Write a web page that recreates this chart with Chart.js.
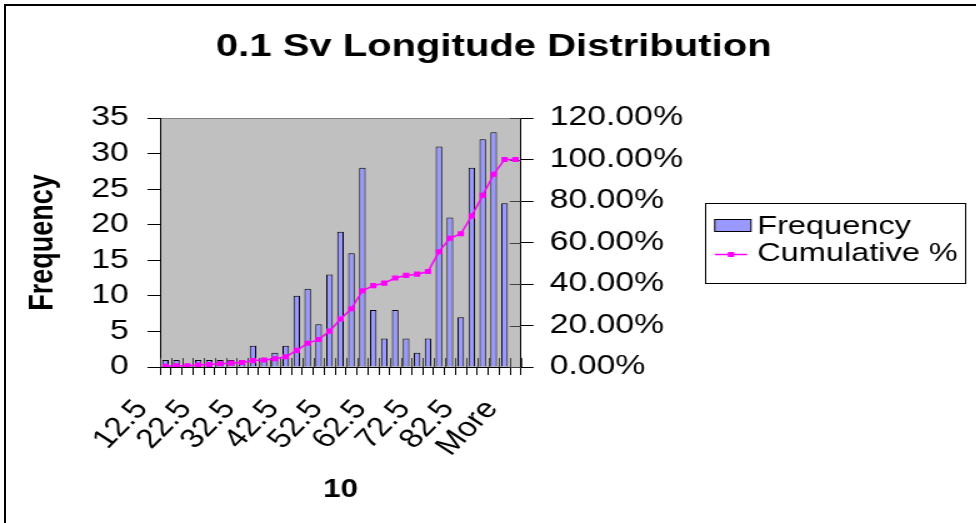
<!DOCTYPE html>
<html>
<head>
<meta charset="utf-8">
<script src="https://cdn.jsdelivr.net/npm/chart.js@4.4.1/dist/chart.umd.min.js"></script>
<style>
  html, body { margin: 0; padding: 0; background: #fff; overflow: hidden; }
  #wrap { position: relative; width: 976px; height: 523px; overflow: hidden; }
  #frame { position: absolute; left: 4px; top: 4px; width: 1200px; height: 800px;
           border-left: 2px solid #000; border-top: 2px solid #000; }
  #chart { position: absolute; left: 0; top: 0; transform: scaleX(1.25); transform-origin: 0 0; }
</style>
</head>
<body>
<div id="wrap">
  <canvas id="chart" width="781" height="523"></canvas>
  <div id="frame"></div>
</div>
<script>
const bins = ['12.5', '15', '17.5', '20', '22.5', '25', '27.5', '30', '32.5', '35', '37.5',
    '40', '42.5', '45', '47.5', '50', '52.5', '55', '57.5', '60', '62.5', '65', '67.5',
    '70', '72.5', '75', '77.5', '80', '82.5', '85', '87.5', '90', 'More'];
const frequency = [1, 1, 0, 1, 1, 1, 1, 1, 3, 1, 2, 3, 10, 11, 6, 13, 19, 16, 28, 8, 4, 8,
    4, 2, 4, 31, 21, 7, 28, 32, 33, 23, 0];
const cumulative = [0.31, 0.62, 0.62, 0.93, 1.23, 1.54, 1.85, 2.16, 3.09, 3.40, 4.01, 4.94,
    8.02, 11.42, 13.27, 17.28, 23.15, 28.09, 36.73, 39.20, 40.43, 42.90, 44.14, 44.75,
    45.99, 55.56, 62.04, 64.20, 72.84, 82.72, 92.90, 100, 100];

const FONT = "'Liberation Sans', Arial, sans-serif";
Chart.defaults.font.family = FONT;
Chart.defaults.color = '#000';

const tickFont = { family: FONT, size: 27 };

// grey plot area like the Excel original
const plotBackground = {
    id: 'plotBackground',
    beforeDraw(chart) {
        const { ctx, chartArea: a } = chart;
        ctx.save();
        ctx.fillStyle = '#c0c0c0';
        ctx.fillRect(a.left, a.top, a.width, a.height);
        ctx.strokeStyle = '#808080';
        ctx.lineWidth = 1;
        ctx.beginPath();
        ctx.moveTo(a.left, a.top + 0.5);
        ctx.lineTo(a.right, a.top + 0.5);
        ctx.stroke();
        ctx.restore();
    }
};

// Excel ticks cross the axis, Chart.js only draws the outer half
const innerTicks = {
    id: 'innerTicks',
    beforeDatasetsDraw(chart) {
        const { ctx, chartArea: a, scales } = chart;
        ctx.save();
        ctx.strokeStyle = '#404040';
        ctx.lineWidth = 1;
        ctx.beginPath();
        for (let i = 0; i <= bins.length; i++) {
            const px = Math.round(scales.x.getPixelForValue(i - 0.5)) + 0.5;
            ctx.moveTo(px, a.bottom);
            ctx.lineTo(px, a.bottom - 9);
        }
        scales.y1.ticks.forEach((t, i) => {
            const py = Math.round(scales.y1.getPixelForTick(i)) + 0.5;
            ctx.moveTo(a.right, py);
            ctx.lineTo(a.right - 9, py);
        });
        ctx.stroke();
        ctx.restore();
    }
};

// boxed legend to the right of the value axis
const boxLegend = {
    id: 'boxLegend',
    afterDraw(chart) {
        const { ctx, chartArea: a } = chart;
        const [bar, line] = chart.data.datasets;
        const left = a.right + 147, top = (a.top + a.bottom) / 2 - 40;
        ctx.save();
        ctx.strokeStyle = '#000';
        ctx.lineWidth = 1;
        ctx.strokeRect(Math.round(left) + 0.5, Math.round(top) + 0.5, 208, 80);

        ctx.fillStyle = bar.backgroundColor;
        ctx.fillRect(left + 8, top + 17, 29, 12);
        ctx.strokeRect(left + 8, top + 17, 29, 12);

        ctx.strokeStyle = line.borderColor;
        ctx.lineWidth = 1.5;
        ctx.beginPath();
        ctx.moveTo(left + 8, top + 52);
        ctx.lineTo(left + 34, top + 52);
        ctx.stroke();
        ctx.fillStyle = line.backgroundColor;
        ctx.fillRect(left + 18.5, top + 49.5, 5, 5);

        ctx.fillStyle = '#000';
        ctx.font = '26px ' + FONT;
        ctx.textBaseline = 'middle';
        ctx.fillText(bar.label, left + 42, top + 24);
        ctx.fillText(line.label, left + 42, top + 51);
        ctx.restore();
    }
};

new Chart(document.getElementById('chart'), {
    data: {
        labels: bins,
        datasets: [
            {
                type: 'bar',
                label: 'Frequency',
                data: frequency,
                yAxisID: 'y',
                backgroundColor: '#9999ff',
                borderColor: '#000',
                borderWidth: 1,
                categoryPercentage: 1,
                barPercentage: 0.6,
                order: 2
            },
            {
                type: 'line',
                label: 'Cumulative %',
                data: cumulative,
                yAxisID: 'y1',
                borderColor: '#ff00ff',
                backgroundColor: '#ff00ff',
                borderWidth: 1.5,
                pointStyle: 'rect',
                pointRadius: 3.6,
                pointBorderWidth: 0,
                tension: 0,
                order: 1
            }
        ]
    },
    options: {
        responsive: false,
        animation: false,
        layout: { padding: { left: 9, top: 0, right: 0, bottom: 0 } },
        plugins: {
            legend: { display: false },
            tooltip: { enabled: false },
            title: {
                display: true,
                text: '0.1 Sv Longitude Distribution',
                color: '#000',
                font: { family: FONT, size: 32, weight: 'bold' },
                padding: { top: 28, bottom: 51.6 }
            }
        },
        scales: {
            x: {
                offset: true,
                grid: { drawOnChartArea: false, tickLength: 8, color: '#000', offset: true },
                border: { color: '#000', width: 1 },
                ticks: {
                    autoSkip: false,
                    minRotation: 51,
                    maxRotation: 51,
                    padding: 19,
                    labelOffset: -19,
                    color: '#000',
                    font: tickFont,
                    callback: (v, i) => (i % 4 === 0 ? bins[i] : '')
                },
                title: {
                    display: true,
                    text: '10',
                    color: '#000',
                    font: { family: FONT, size: 25, weight: 'bold' },
                    padding: { top: 0, bottom: 18 }
                },
                afterFit: s => { s.height = 156; }
            },
            y: {
                position: 'left',
                min: 0,
                max: 35,
                grid: { drawOnChartArea: false, tickLength: 10, color: '#000' },
                border: { color: '#000', width: 1 },
                ticks: { stepSize: 5, padding: 15, color: '#000', font: tickFont },
                title: {
                    display: true,
                    text: 'Frequency',
                    color: '#000',
                    font: { family: FONT, size: 27, weight: 'bold' },
                    padding: { top: 9, bottom: 0 }
                },
                afterFit: s => { s.width = 119; }
            },
            y1: {
                position: 'right',
                min: 0,
                max: 120,
                grid: { drawOnChartArea: false, tickLength: 10, color: '#000' },
                border: { color: '#000', width: 1 },
                ticks: {
                    stepSize: 20,
                    padding: 13,
                    color: '#000',
                    font: tickFont,
                    callback: v => v.toFixed(2) + '%'
                },
                afterFit: s => { s.width = 364.2; }
            }
        }
    },
    plugins: [plotBackground, innerTicks, boxLegend]
});
</script>
</body>
</html>
